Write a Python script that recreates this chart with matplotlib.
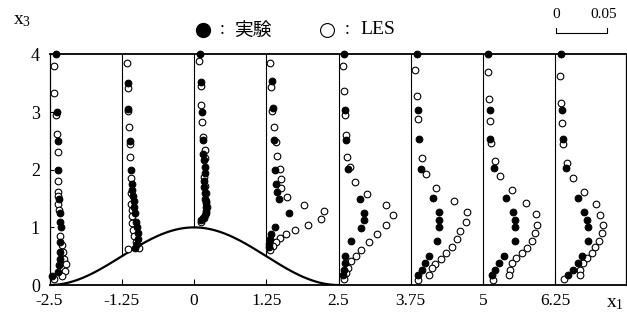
import numpy as np
import matplotlib
matplotlib.use("Agg")
from matplotlib import pyplot as plt
from matplotlib.lines import Line2D

# station positions along x1 and their tick labels
stations = [-2.5, -1.25, 0.0, 1.25, 2.5, 3.75, 5.0, 6.25]
tick_labels = ["-2.5", "-1.25", "0", "1.25", "2.5", "3.75", "5", "6.25"]
ytick_vals = [0, 1, 2, 3, 4]

# experiment (filled) profiles: height x3 and value
exp_z_m250 = [4.0, 3.0, 2.5, 2.0, 1.5, 1.25, 1.1, 1.0, 0.75, 0.58, 0.46, 0.35, 0.23, 0.15]
exp_v_m250 = [.006, .007, .008, .008, .009, .010, .010, .011, .010, .010, .010, .009, .008, .002]
exp_z_m125 = [3.5, 3.05, 2.5, 2.0, 1.75, 1.65, 1.55, 1.45, 1.35, 1.25, 1.1, 1.0, 0.9, 0.8, 0.72, 0.65]
exp_v_m125 = [.0066, .0066, .0083, .0093, .010, .010, .011, .012, .012, .013, .014, .015, .016, .016, .015, .013]
exp_z_000 = [4.0, 3.52, 3.0, 2.52, 2.28, 2.17, 2.05, 1.95, 1.8, 1.7, 1.6, 1.5, 1.42, 1.35, 1.28, 1.22, 1.17, 1.13]
exp_v_000 = [.0057, .0067, .0077, .009, .009, .010, .0105, .0105, .010, .010, .011, .011, .012, .012, .012, .011, .009, .007]
exp_z_125 = [3.54, 3.07, 2.51, 2.0, 1.75, 1.62, 1.5, 1.25, 1.0, 0.89, 0.8, 0.72, 0.66]
exp_v_125 = [.0057, .0063, .008, .009, .010, .011, .013, .0223, .009, .0047, .004, .003, .003]
exp_z_250 = [4.0, 3.04, 2.52, 2.02, 1.5, 1.25, 1.12, 0.99, 0.76, 0.5, 0.38, 0.26, 0.17]
exp_v_250 = [.0057, .0067, .0077, .009, .0217, .0257, .0257, .0223, .0127, .0067, .006, .005, .004]
exp_z_375 = [4.0, 3.04, 2.53, 2.02, 1.51, 1.26, 1.13, 1.01, 0.76, 0.5, 0.38, 0.26, 0.17]
exp_v_375 = [.0057, .0073, .0083, .0097, .0217, .0283, .0283, .0283, .0263, .0183, .014, .0107, .0073]
exp_z_500 = [4.0, 3.04, 2.54, 2.03, 1.51, 1.26, 1.13, 1.01, 0.76, 0.51, 0.39, 0.26, 0.17]
exp_v_500 = [.005, .0067, .0073, .0107, .0227, .0293, .0317, .0317, .0317, .021, .016, .0117, .0093]
exp_z_625 = [4.0, 3.04, 2.54, 2.03, 1.51, 1.26, 1.13, 1.01, 0.76, 0.5, 0.39, 0.26, 0.17]
exp_v_625 = [.0053, .007, .0077, .0103, .0227, .0287, .0317, .0327, .0327, .026, .0227, .0177, .0127]

# LES (open) profiles
les_z_m250 = [3.8, 3.33, 2.95, 2.62, 2.3, 1.8, 1.62, 1.55, 1.4, 1.3, 0.85, 0.7, 0.58, 0.46, 0.37, 0.25, 0.15, 0.1]
les_v_m250 = [.004, .004, .006, .007, .008, .008, .008, .008, .008, .009, .010, .012, .013, .014, .016, .015, .012, .004]
les_z_m125 = [3.85, 3.42, 3.02, 2.75, 2.45, 2.22, 1.85, 1.6, 1.4, 1.3, 1.2, 1.08, 0.95, 0.85, 0.75, 0.65, 0.62]
les_v_m125 = [.005, .006, .0066, .0073, .008, .0083, .009, .009, .0095, .010, .010, .010, .011, .012, .014, .017, .006]
les_z_000 = [3.89, 3.46, 3.13, 2.82, 2.57, 2.35, 2.2, 1.87, 1.72, 1.6, 1.45, 1.35, 1.25, 1.17, 1.1]
les_v_000 = [.005, .0067, .0067, .0083, .009, .011, .011, .010, .011, .012, .012, .013, .012, .010, .007]
les_z_125 = [3.86, 3.43, 3.02, 2.75, 2.48, 2.23, 2.02, 1.84, 1.68, 1.53, 1.39, 1.28, 1.15, 1.05, 0.95, 0.88, 0.81, 0.74, 0.67, 0.6]
les_v_125 = [.004, .005, .006, .0073, .0093, .0107, .014, .0147, .015, .0207, .0373, .0573, .054, .0417, .0283, .020, .014, .010, .007, .004]
les_z_250 = [3.8, 3.36, 2.95, 2.61, 2.22, 2.05, 1.79, 1.58, 1.39, 1.21, 1.04, 0.89, 0.74, 0.61, 0.5, 0.41, 0.3, 0.21, 0.1]
les_v_250 = [.0043, .0057, .0067, .0077, .008, .011, .0167, .0283, .0467, .0543, .0467, .0383, .030, .0223, .017, .012, .009, .007, .005]
les_z_375 = [3.73, 3.28, 2.88, 2.21, 1.93, 1.68, 1.46, 1.27, 1.09, 0.94, 0.79, 0.66, 0.56, 0.45, 0.37, 0.29, 0.18, 0.09]
les_v_375 = [.004, .0057, .0073, .0107, .015, .025, .0423, .0557, .0547, .049, .0457, .0407, .035, .0297, .024, .0207, .0183, .0073]
les_z_500 = [3.7, 3.23, 2.84, 2.47, 2.15, 1.9, 1.64, 1.42, 1.24, 1.05, 0.91, 0.77, 0.65, 0.56, 0.47, 0.38, 0.26, 0.17, 0.09]
les_v_500 = [.005, .006, .0067, .008, .0117, .0167, .0283, .0427, .0527, .0533, .051, .0483, .0433, .0383, .0327, .0283, .0267, .026, .010]
les_z_625 = [3.63, 3.16, 2.81, 2.44, 2.12, 1.86, 1.61, 1.41, 1.22, 1.05, 0.91, 0.77, 0.66, 0.56, 0.47, 0.39, 0.26, 0.17, 0.1]
les_v_625 = [.005, .006, .007, .008, .0117, .0177, .0287, .040, .0443, .047, .046, .0437, .0393, .036, .0317, .027, .0243, .024, .0083]

exp_z = [exp_z_m250, exp_z_m125, exp_z_000, exp_z_125, exp_z_250, exp_z_375, exp_z_500, exp_z_625]
exp_v = [exp_v_m250, exp_v_m125, exp_v_000, exp_v_125, exp_v_250, exp_v_375, exp_v_500, exp_v_625]
les_z = [les_z_m250, les_z_m125, les_z_000, les_z_125, les_z_250, les_z_375, les_z_500, les_z_625]
les_v = [les_v_m250, les_v_m125, les_v_000, les_v_125, les_v_250, les_v_375, les_v_500, les_v_625]

scale = 17.5  # x1 units per unit of plotted value (0.05 -> bar length)
serif = "Liberation Serif"
cjk = ["Noto Sans CJK JP", "DejaVu Sans"]

def hill(x):
    x = np.asarray(x, dtype=float)
    return np.where(np.abs(x) < 2.5, 0.5 * (1 + np.cos(np.pi * x / 2.5)), 0.0)

fig = plt.figure(figsize=(6.27, 3.28), dpi=100)
ax = fig.add_axes([0.079, 0.131, 0.919, 0.703])

# hill surface
xh = np.linspace(-2.5, 2.5, 300)
ax.plot(xh, hill(xh), color="black", lw=1.6, zorder=3)

# zero lines of each profile
for x0 in stations[1:]:
    ax.plot([x0, x0], [float(hill(x0)), 4.0], color="black", lw=0.8, zorder=2)

for i, x0 in enumerate(stations):
    ax.plot(x0 + scale * np.array(les_v[i]), les_z[i], "o", ms=4.8, mfc="white",
            mec="black", mew=0.8, clip_on=False, zorder=4)
    ax.plot(x0 + scale * np.array(exp_v[i]), exp_z[i], "o", ms=4.8, mfc="black",
            mec="black", mew=0.8, clip_on=False, zorder=5)

ax.set_xlim(-2.5, 7.47)
ax.set_ylim(0, 4)
ax.set_xticks(stations)
ax.set_xticklabels(tick_labels, fontfamily=serif, fontsize=12.5)
ax.set_yticks(ytick_vals)
ax.set_yticklabels([str(v) for v in ytick_vals], fontfamily=serif, fontsize=13)
ax.tick_params(axis="x", direction="in", length=4, width=0.8, pad=6)
ax.tick_params(axis="y", direction="in", length=3, width=0.8, pad=7)
for side in ["top", "bottom"]:
    ax.spines[side].set_linewidth(1.3)
for side in ["left", "right"]:
    ax.spines[side].set_linewidth(0.9)

# axis names
fig.text(13 / 627, 1 - 20 / 328, r"$\mathregular{x_3}$", fontfamily=serif, fontsize=14,
         ha="left", va="center")
fig.text(606 / 627, 1 - 304 / 328, r"$\mathregular{x_1}$", fontfamily=serif, fontsize=14,
         ha="left", va="center")

# legend
fig.add_artist(Line2D([203 / 627], [1 - 30 / 328], marker="o", ms=10, mfc="black",
                      mec="black", transform=fig.transFigure))
fig.text(220 / 627, 1 - 30 / 328, ":", fontfamily=serif, fontsize=13,
         ha="left", va="center")
fig.text(234 / 627, 1 - 30 / 328, "実験", fontfamily=cjk, fontsize=13.5,
         ha="left", va="center")
fig.add_artist(Line2D([327 / 627], [1 - 30 / 328], marker="o", ms=10, mfc="white",
                      mec="black", mew=0.8, transform=fig.transFigure))
fig.text(345 / 627, 1 - 30 / 328, ":", fontfamily=serif, fontsize=13,
         ha="left", va="center")
fig.text(360 / 627, 1 - 30 / 328, "LES", fontfamily=serif, fontsize=14,
         ha="left", va="center")

# scale bar
bx0, bx1, by, bh = 556 / 627, 607 / 627, 1 - 33 / 328, 5 / 328
fig.add_artist(Line2D([bx0, bx0, bx1, bx1], [by + bh, by, by, by + bh], color="black",
                      lw=0.8, transform=fig.transFigure))
fig.text(bx0, 1 - 15 / 328, "0", fontfamily=serif, fontsize=11, ha="center", va="center")
fig.text(bx1 - 3 / 627, 1 - 15 / 328, "0.05", fontfamily=serif, fontsize=11,
         ha="center", va="center")

fig.savefig("out.png", dpi=100)
